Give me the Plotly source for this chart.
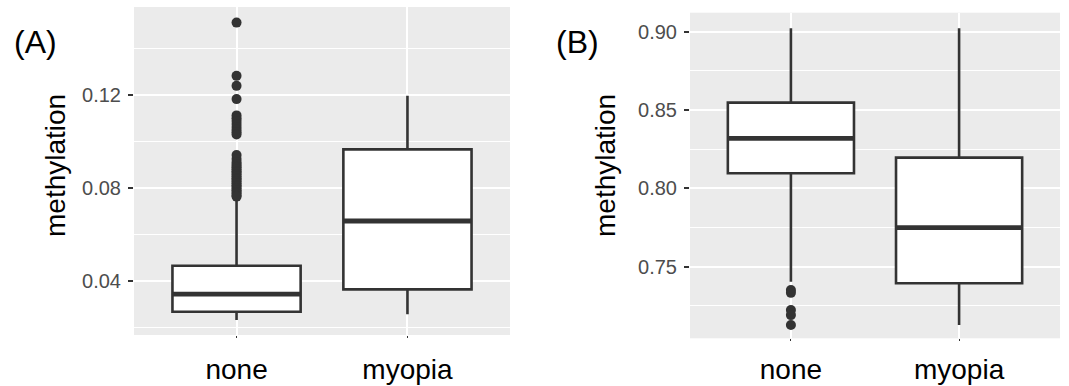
import plotly.graph_objects as go

# ---------------- data ----------------
categories = ["none", "myopia"]
cat_pos = [1, 2]
box_width = 0.75

# Panel A
a_q1 = [0.0268, 0.0364]
a_median = [0.0344, 0.0658]
a_q3 = [0.0466, 0.0966]
a_lower = [0.0232, 0.0257]
a_upper = [0.0753, 0.1196]
a_outliers_none = [0.1511, 0.1282, 0.1239, 0.1182,
                   0.1112, 0.1100, 0.1088, 0.1075, 0.1062, 0.1050, 0.1040, 0.1030,
                   0.0942, 0.0925, 0.0912, 0.0903, 0.0895, 0.0888, 0.0880, 0.0872,
                   0.0865, 0.0858, 0.0850, 0.0842, 0.0835, 0.0828, 0.0820, 0.0812,
                   0.0805, 0.0798, 0.0790, 0.0783, 0.0776, 0.0768, 0.0763]

# Panel B
b_q1 = [0.8096, 0.7394]
b_median = [0.8319, 0.7749]
b_q3 = [0.8547, 0.8196]
b_lower = [0.7404, 0.7128]
b_upper = [0.9022, 0.9022]
b_outliers_none = [0.7351, 0.7333, 0.7223, 0.7191, 0.7128]

a_yticks = [0.04, 0.08, 0.12]
a_yticktext = ["0.04", "0.08", "0.12"]
b_yticks = [0.75, 0.80, 0.85, 0.90]
b_yticktext = ["0.75", "0.80", "0.85", "0.90"]

# ---------------- style ----------------
DARK = "#333333"
BG = "#EBEBEB"
FONT = "Liberation Sans, Arial, sans-serif"

fig = go.Figure()


def add_panel(xa, ya, q1, med, q3, lo, up, outl):
    fig.add_trace(go.Box(
        x=cat_pos, q1=q1, median=med, q3=q3, lowerfence=lo, upperfence=up,
        width=box_width, whiskerwidth=0, fillcolor="white",
        line=dict(color=DARK, width=2.6), boxpoints=False,
        xaxis=xa, yaxis=ya, showlegend=False, hoverinfo="skip"))
    for p, m in zip(cat_pos, med):
        fig.add_trace(go.Scatter(
            x=[p - box_width / 2, p + box_width / 2], y=[m, m], mode="lines",
            line=dict(color=DARK, width=4.8), xaxis=xa, yaxis=ya,
            showlegend=False, hoverinfo="skip"))
    fig.add_trace(go.Scatter(
        x=[cat_pos[0]] * len(outl), y=outl, mode="markers",
        marker=dict(color=DARK, size=10), xaxis=xa, yaxis=ya,
        showlegend=False, hoverinfo="skip"))


add_panel("x", "y", a_q1, a_median, a_q3, a_lower, a_upper, a_outliers_none)
add_panel("x2", "y2", b_q1, b_median, b_q3, b_lower, b_upper, b_outliers_none)

xcommon = dict(range=[0.4, 2.6], tickmode="array", tickvals=cat_pos, ticktext=categories,
               showgrid=True, gridcolor="white", gridwidth=2, zeroline=False,
               showline=False, ticks="outside", ticklen=2, tickwidth=1, tickcolor=DARK,
               tickfont=dict(family=FONT, size=28, color="black"),
               automargin=False, fixedrange=True)
ycommon = dict(showgrid=True, gridcolor="white", gridwidth=2, zeroline=False,
               showline=False, ticks="outside", ticklen=5, tickwidth=2, tickcolor=DARK,
               tickfont=dict(family=FONT, size=20, color="#4D4D4D"), ticklabelstandoff=3,
               tickmode="array", automargin=False, fixedrange=True)

fig.update_layout(
    width=1069, height=386, margin=dict(l=0, r=0, t=0, b=0, autoexpand=False),
    paper_bgcolor="white", plot_bgcolor=BG,
    xaxis=dict(domain=[134 / 1069, 510 / 1069], anchor="y", ticklabelstandoff=7, **xcommon),
    yaxis=dict(domain=[51 / 386, 379 / 386], anchor="x", range=[0.0168, 0.1578],
               tickvals=a_yticks, ticktext=a_yticktext,
               minor=dict(tickmode="array", tickvals=[0.02, 0.06, 0.10, 0.14], showgrid=True,
                          gridcolor="white", gridwidth=1, ticks=""),
               **ycommon),
    xaxis2=dict(domain=[690 / 1069, 1060 / 1069], anchor="y2", ticklabelstandoff=4, **xcommon),
    yaxis2=dict(domain=[47.7 / 386, 373.3 / 386], anchor="x2", range=[0.7043, 0.9121],
                tickvals=b_yticks, ticktext=b_yticktext,
                minor=dict(tickmode="array", tickvals=[0.725, 0.775, 0.825, 0.875], showgrid=True,
                           gridcolor="white", gridwidth=1, ticks=""),
                **ycommon),
    annotations=[
        dict(text="(A)", x=12 / 1069, y=1 - 42 / 386, xref="paper", yref="paper",
             xanchor="left", yanchor="middle", showarrow=False,
             font=dict(family=FONT, size=32, color="black")),
        dict(text="(B)", x=554 / 1069, y=1 - 42 / 386, xref="paper", yref="paper",
             xanchor="left", yanchor="middle", showarrow=False,
             font=dict(family=FONT, size=32, color="black")),
        dict(text="methylation", x=55 / 1069, y=1 - 166 / 386, xref="paper", yref="paper",
             xanchor="center", yanchor="middle", textangle=-90, showarrow=False,
             font=dict(family=FONT, size=28, color="black")),
        dict(text="methylation", x=605 / 1069, y=1 - 166 / 386, xref="paper", yref="paper",
             xanchor="center", yanchor="middle", textangle=-90, showarrow=False,
             font=dict(family=FONT, size=28, color="black")),
    ],
)

fig.write_html("out.html", config={"displayModeBar": False, "staticPlot": True},
               post_script="document.body.style.margin='0';document.body.style.overflow='hidden';")
